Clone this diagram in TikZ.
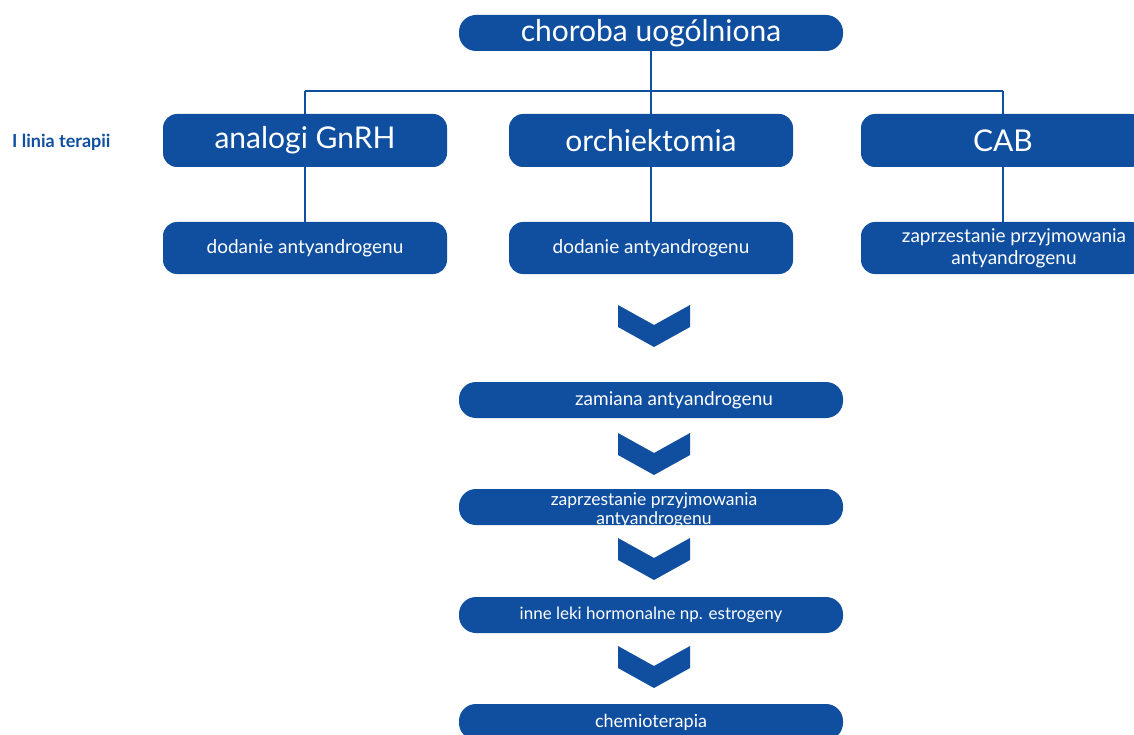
\documentclass[tikz,border=0pt]{standalone}
\usepackage{fontspec}
\setmainfont{Lato}
\definecolor{nfzblue}{RGB}{16,79,159}
\begin{document}
\begin{tikzpicture}[x=1pt,y=-1pt,
  box/.style={fill=nfzblue, text=white, rounded corners=14pt, inner sep=0pt, align=center},
  bigbox/.style={box, minimum width=284pt, minimum height=53pt, font=\fontsize{30}{32}\selectfont},
  smallbox/.style={box, minimum width=284pt, minimum height=52pt, font=\fontsize{19}{22}\selectfont},
  flowbox/.style={box, minimum width=384pt, minimum height=36pt, rounded corners=17pt, font=\fontsize{17.5}{20}\selectfont},
  link/.style={draw=nfzblue, line width=2.6pt},
  chev/.style={fill=nfzblue}]
\fill[white] (0,0) rectangle (1134,735);
\clip (0,0) rectangle (1134,735);
\useasboundingbox (0,0) rectangle (1134,735);

% coordinates for horizontal bar
\coordinate (hl) at (305,91);
\coordinate (hr) at (1003,91);

% top
\node[box, minimum width=384pt, minimum height=36pt, rounded corners=17pt, font=\fontsize{30}{32}\selectfont] (top) at (651,33) {choroba uogólniona};

% row 1
\node[bigbox] (an) at (305,140.5) {analogi GnRH};
\node[bigbox] (or) at (651,140.5) {orchiektomia};
\node[bigbox] (cab) at (1003,140.5) {CAB};

% row 2
\node[smallbox] (an2) at (305,248) {dodanie antyandrogenu};
\node[smallbox] (or2) at (651,248) {dodanie antyandrogenu};
\node[smallbox] (cab2) at (1003,248) {\hspace*{22pt}zaprzestanie przyjmowania\\\hspace*{22pt}antyandrogenu};

% connectors
\begin{scope}[on background layer/.style={}]
\draw[link] (top.south) -- (or.north);
\draw[link] (hl) -- (hr);
\draw[link] (hl) -- (an.north);
\draw[link] (hr) -- (cab.north);
\draw[link] (an.south) -- (an2.north);
\draw[link] (or.south) -- (or2.north);
\draw[link] (cab.south) -- (cab2.north);
\end{scope}

% side label
\node[text=nfzblue, font=\bfseries\fontsize{18}{20}\selectfont, anchor=west, inner sep=0pt] (lin) at (12,142) {I linia terapii};

% chevrons
\foreach \t in {305,433,538,646}{
  \fill[chev] (618,\t) -- (654,\t+20) -- (690,\t) -- (690,\t+22) -- (654,\t+42) -- (618,\t+22) -- cycle;
}

% flow boxes
\node[flowbox, font=\fontsize{19}{22}\selectfont] (f1) at (651,400) {\hspace*{46pt}zamiana antyandrogenu};
\node[flowbox] (f2) at (651,507) {};
\node[text=white, inner sep=0pt, anchor=base, font=\fontsize{17.5}{19}\selectfont] (f2t) at (654,505) {\begin{tabular}[t]{@{}c@{}}zaprzestanie przyjmowania\\ antyandrogenu\end{tabular}};
\node[flowbox, font=\fontsize{17}{20}\selectfont] (f3) at (651,615) {inne leki hormonalne np. estrogeny};
\node[flowbox, font=\fontsize{18}{20}\selectfont] (f4) at (651,722) {chemioterapia};
\end{tikzpicture}
\end{document}
